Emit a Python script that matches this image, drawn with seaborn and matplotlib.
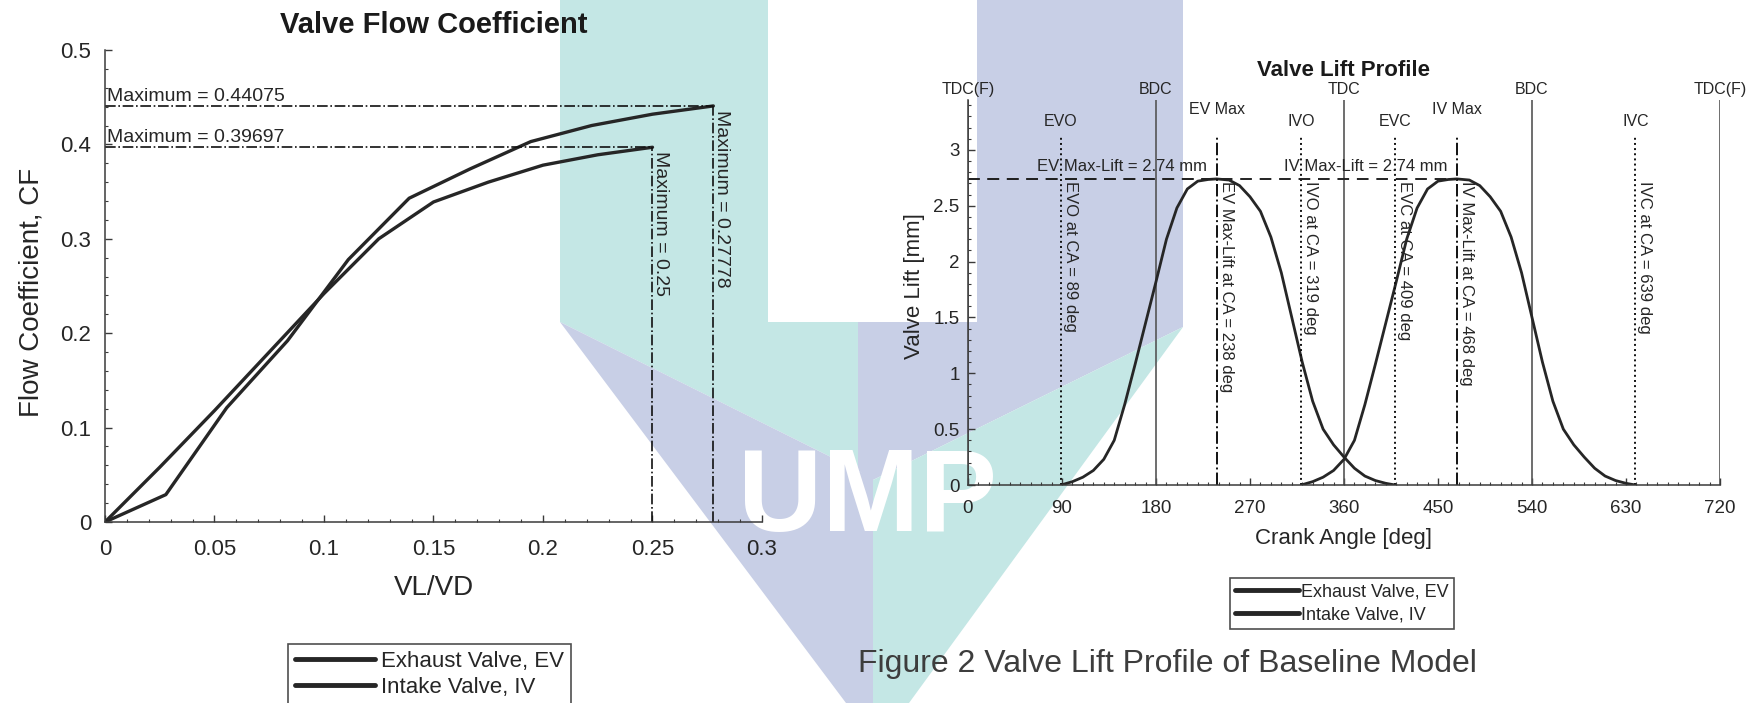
import numpy as np
import matplotlib
matplotlib.use("Agg")
import matplotlib.pyplot as plt
from matplotlib.patches import Polygon
from matplotlib.lines import Line2D
from matplotlib.ticker import MultipleLocator, FixedLocator, FixedFormatter
import seaborn as sns

# ---------------- Valve flow coefficient (CF vs VL/VD) ----------------
ev_vlvd = [0, 0.02778, 0.05556, 0.08333, 0.11111, 0.13889, 0.16667, 0.19444, 0.22222, 0.25, 0.27778]
ev_cf = [0, 0.029, 0.121, 0.192, 0.278, 0.343, 0.374, 0.403, 0.420, 0.432, 0.44075]
iv_vlvd = [0, 0.025, 0.05, 0.075, 0.1, 0.125, 0.15, 0.175, 0.2, 0.225, 0.25]
iv_cf = [0, 0.058, 0.118, 0.180, 0.242, 0.300, 0.339, 0.360, 0.378, 0.389, 0.39697]

cf_xticks = [0, 0.05, 0.1, 0.15, 0.2, 0.25, 0.3]
cf_xticklabels = ["0", "0.05", "0.1", "0.15", "0.2", "0.25", "0.3"]
cf_yticks = [0, 0.1, 0.2, 0.3, 0.4, 0.5]
cf_yticklabels = ["0", "0.1", "0.2", "0.3", "0.4", "0.5"]

# ---------------- Valve lift profile ----------------
ev_crank = [89, 100, 110, 120, 130, 140, 150, 160, 170, 180, 190, 200, 210, 220, 230, 238,
            250, 260, 270, 280, 290, 300, 310, 320, 330, 340, 350, 360, 370, 380, 390, 400, 409]
ev_lift = [0.00, 0.03, 0.07, 0.13, 0.23, 0.40, 0.72, 1.08, 1.45, 1.82, 2.20, 2.48, 2.65, 2.72, 2.735, 2.74,
           2.73, 2.68, 2.58, 2.45, 2.22, 1.90, 1.50, 1.10, 0.75, 0.50, 0.36, 0.25, 0.15, 0.08, 0.04, 0.015, 0.00]
iv_crank = [319, 330, 340, 350, 360, 370, 380, 390, 400, 410, 420, 430, 440, 450, 460, 468,
            480, 490, 500, 510, 520, 530, 540, 550, 560, 570, 580, 590, 600, 610, 620, 630, 639]
iv_lift = [0.00, 0.03, 0.07, 0.13, 0.23, 0.40, 0.72, 1.08, 1.45, 1.82, 2.20, 2.48, 2.65, 2.72, 2.735, 2.74,
           2.73, 2.68, 2.58, 2.45, 2.22, 1.90, 1.50, 1.10, 0.75, 0.50, 0.36, 0.25, 0.15, 0.08, 0.04, 0.015, 0.00]

dead_centres = [0, 180, 360, 540, 720]
dead_centre_labels = ["TDC(F)", "BDC", "TDC", "BDC", "TDC(F)"]
ca_ticks = [0, 90, 180, 270, 360, 450, 540, 630, 720]
lift_ticks = [0, 0.5, 1, 1.5, 2, 2.5, 3]
lift_ticklabels = ["0", "0.5", "1", "1.5", "2", "2.5", "3"]

series_labels = ["Exhaust Valve, EV", "Intake Valve, IV"]

# ---------------- figure setup ----------------
sns.set_theme(style="ticks")
plt.rcParams["font.family"] = ["Liberation Sans", "DejaVu Sans"]

W, H = 1749, 703
fig = plt.figure(figsize=(W / 100, H / 100), dpi=100)
fig.patch.set_facecolor("white")


def fx(px):
    return px / W


def fy(py):
    return 1 - py / H


# Faint institutional logo behind both panels
teal = "#c4e7e5"
lav = "#c8cfe6"
logo = [
    ([(560, 0), (768, 0), (768, 322), (858, 322), (858, 470.5), (560, 322)], teal),
    ([(977, 0), (1183, 0), (1183, 327), (873, 480), (858, 470.5), (858, 322), (977, 322)], lav),
    ([(560, 322), (873, 478), (873, 703), (846, 703)], lav),
    ([(873, 480), (1183, 327), (909, 703), (873, 703)], teal),
]
for pts, col in logo:
    fig.add_artist(Polygon([(fx(x), fy(y)) for x, y in pts], closed=True,
                           transform=fig.transFigure, facecolor=col,
                           edgecolor="none", zorder=-3))
fig.text(fx(868), fy(500), "UMP", ha="center", va="center", color="white",
         fontsize=84, fontweight="bold", zorder=-2)

line_col = "#262626"
txt_col = "#262626"
spine_col = "#3a3a3a"

# ================= left panel =================
axL = fig.add_axes([fx(105), fy(522), (762 - 105) / W, (522 - 50) / H])
axL.set_facecolor("none")
sns.lineplot(x=ev_vlvd, y=ev_cf, ax=axL, color=line_col, lw=2.4, sort=False, estimator=None)
sns.lineplot(x=iv_vlvd, y=iv_cf, ax=axL, color=line_col, lw=2.4, sort=False, estimator=None)

for xs, ys, in [(ev_vlvd, ev_cf), (iv_vlvd, iv_cf)]:
    i = int(np.argmax(ys))
    xm, ym = xs[i], ys[i]
    axL.plot([0, xm], [ym, ym], ls="-.", color="#111111", lw=1.2)
    axL.plot([xm, xm], [0, ym], ls="-.", color="#111111", lw=1.2)
    axL.annotate(f"Maximum = {ym:.5g}", xy=(0, ym), xytext=(1.5, 1.0),
                 textcoords="offset points", ha="left", va="bottom",
                 fontsize=14, color=txt_col)
    axL.annotate(f"Maximum = {xm:.5g}", xy=(xm, ym), xytext=(-0.5, -3),
                 textcoords="offset points", ha="left", va="top",
                 rotation=-90, fontsize=14, color=txt_col)

axL.set_xlim(0, 0.3)
axL.set_ylim(0, 0.5)
axL.xaxis.set_major_locator(FixedLocator(cf_xticks))
axL.xaxis.set_major_formatter(FixedFormatter(cf_xticklabels))
axL.yaxis.set_major_locator(FixedLocator(cf_yticks))
axL.yaxis.set_major_formatter(FixedFormatter(cf_yticklabels))
axL.xaxis.set_minor_locator(MultipleLocator(0.01))
axL.yaxis.set_minor_locator(MultipleLocator(0.02))
axL.tick_params(which="major", direction="in", length=5, width=1, labelsize=16,
                colors=spine_col, labelcolor=txt_col)
axL.tick_params(axis="x", which="major", pad=12)
axL.tick_params(axis="y", which="major", pad=10)
axL.tick_params(which="minor", direction="in", length=2.5, width=0.8, colors=spine_col)
sns.despine(ax=axL)
for s in ("left", "bottom"):
    axL.spines[s].set_color(spine_col)
    axL.spines[s].set_linewidth(1.1)
axL.set_title("Valve Flow Coefficient", fontsize=21, fontweight="bold", pad=12, color="#1a1a1a")
axL.set_xlabel("VL/VD", fontsize=20, color=txt_col)
axL.set_ylabel("Flow Coefficient, CF", fontsize=20, color=txt_col)
axL.xaxis.set_label_coords(0.5, -0.112)
axL.yaxis.set_label_coords(-0.092, 0.487)

handles = [Line2D([], [], color=line_col, lw=3.5), Line2D([], [], color=line_col, lw=3.5)]
legL = fig.legend(handles, series_labels, loc="upper left",
                  bbox_to_anchor=(fx(288), fy(644)), bbox_transform=fig.transFigure,
                  fontsize=16, frameon=True, fancybox=False, edgecolor="#222222",
                  handlelength=3.6, handletextpad=0.3, labelspacing=0.25,
                  borderpad=0.3, borderaxespad=0)
legL.get_frame().set_linewidth(1.2)

# ================= right panel =================
ytop = 3.45
axR = fig.add_axes([fx(968), fy(485), (1720 - 968) / W, (485 - 99.6) / H])
axR.set_facecolor("none")

for a, lab in zip(dead_centres, dead_centre_labels):
    axR.plot([a, a], [0, ytop], color="#555555", lw=1.2)
    axR.text(a, 3.47, lab, ha="center", va="bottom", fontsize=11.5, color=txt_col, clip_on=False)

sns.lineplot(x=ev_crank, y=ev_lift, ax=axR, color=line_col, lw=2.0, sort=False, estimator=None)
sns.lineplot(x=iv_crank, y=iv_lift, ax=axR, color=line_col, lw=2.0, sort=False, estimator=None)

ev_i = int(np.argmax(ev_lift))
iv_i = int(np.argmax(iv_lift))
events = [
    ("EVO", ev_crank[0], ":", "EVO at CA = {} deg"),
    ("EV Max", ev_crank[ev_i], "-.", "EV Max-Lift at CA = {} deg"),
    ("IVO", iv_crank[0], ":", "IVO at CA = {} deg"),
    ("EVC", ev_crank[-1], ":", "EVC at CA = {} deg"),
    ("IV Max", iv_crank[iv_i], "-.", "IV Max-Lift at CA = {} deg"),
    ("IVC", iv_crank[-1], ":", "IVC at CA = {} deg"),
]
for name, a, ls, fmt in events:
    axR.plot([a, a], [0, 3.13], ls=ls, color="#111111", lw=1.4)
    ylab = 3.29 if "Max" in name else 3.19
    axR.text(a, ylab, name, ha="center", va="bottom", fontsize=11.5, color=txt_col)
    axR.annotate(fmt.format(a), xy=(a, ev_lift[ev_i]), xytext=(1.5, -1.5),
                 textcoords="offset points", ha="left", va="top", rotation=-90,
                 fontsize=12, color=txt_col)

for tag, crank, lift, i in [("EV", ev_crank, ev_lift, ev_i), ("IV", iv_crank, iv_lift, iv_i)]:
    axR.plot([0, crank[i]], [lift[i], lift[i]], ls=(0, (6, 4)), color="#222222", lw=1.4)
    axR.annotate(f"{tag} Max-Lift = {lift[i]:.2f} mm", xy=(crank[i], lift[i]),
                 xytext=(-7, 3.5), textcoords="offset points", ha="right", va="bottom",
                 fontsize=12, color=txt_col)

axR.set_xlim(0, 720)
axR.set_ylim(0, ytop)
axR.xaxis.set_major_locator(FixedLocator(ca_ticks))
axR.yaxis.set_major_locator(FixedLocator(lift_ticks))
axR.yaxis.set_major_formatter(FixedFormatter(lift_ticklabels))
axR.xaxis.set_minor_locator(MultipleLocator(10))
axR.yaxis.set_minor_locator(MultipleLocator(0.1))
axR.tick_params(which="major", direction="in", length=5, width=1, labelsize=13.5,
                colors=spine_col, labelcolor=txt_col)
axR.tick_params(axis="x", which="major", pad=11)
axR.tick_params(axis="y", which="major", pad=6)
axR.tick_params(which="minor", direction="in", length=2.5, width=0.8, colors=spine_col)
sns.despine(ax=axR)
for s in ("left", "bottom"):
    axR.spines[s].set_color(spine_col)
    axR.spines[s].set_linewidth(1.1)
axR.set_title("Valve Lift Profile", fontsize=16, fontweight="bold", pad=17, color="#1a1a1a")
axR.set_xlabel("Crank Angle [deg]", fontsize=16, color=txt_col)
axR.set_ylabel("Valve Lift [mm]", fontsize=16, color=txt_col)
axR.xaxis.set_label_coords(0.5, -0.111)
axR.yaxis.set_label_coords(-0.057, 0.516)

legR = fig.legend(handles, series_labels, loc="upper left",
                  bbox_to_anchor=(fx(1230), fy(578)), bbox_transform=fig.transFigure,
                  fontsize=13, frameon=True, fancybox=False, edgecolor="#222222",
                  handlelength=3.5, handletextpad=0.15, labelspacing=0.35,
                  borderpad=0.3, borderaxespad=0)
legR.get_frame().set_linewidth(1.2)

fig.text(fx(858), fy(664), "Figure 2 Valve Lift Profile of Baseline Model",
         ha="left", va="center", fontsize=23, color="#3d3d3d")

fig.savefig("out.png", dpi=100, facecolor="white")
